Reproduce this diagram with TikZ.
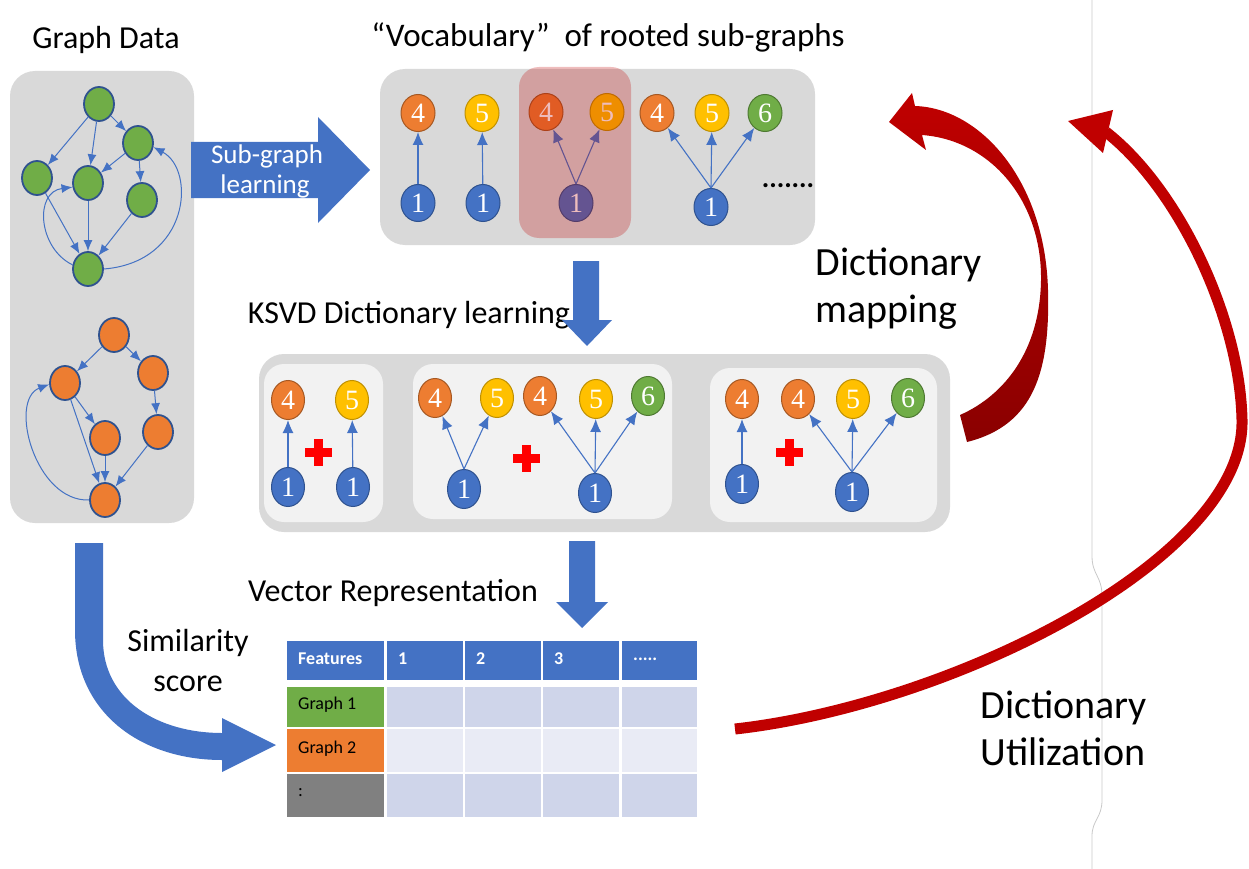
\documentclass[tikz,border=0pt]{standalone}
\usepackage{fontspec}
\setmainfont{Carlito}
\newfontfamily\digitfont{Liberation Serif}
\usetikzlibrary{arrows.meta,shapes.geometric}

\definecolor{panelgray}{HTML}{D9D9D9}
\definecolor{innergray}{HTML}{F2F2F2}
\definecolor{accblue}{HTML}{4472C4}
\definecolor{darkblue}{HTML}{2F528F}
\definecolor{accorange}{HTML}{ED7D31}
\definecolor{accyellow}{HTML}{FFC000}
\definecolor{accgreen}{HTML}{70AD47}
\definecolor{darkred}{HTML}{C00000}
\definecolor{plusred}{HTML}{FF0000}
\definecolor{cellA}{HTML}{CFD5EA}
\definecolor{cellB}{HTML}{E9EBF5}
\definecolor{cellgray}{HTML}{808080}
\definecolor{guide}{HTML}{C8C8C8}

\tikzset{
  panel/.style={fill=panelgray, rounded corners=25pt},
  subpanel/.style={fill=innergray, rounded corners=20pt},
  gnode/.style={ellipse, draw=darkblue, line width=1.8pt, minimum width=30pt, minimum height=34pt, inner sep=0pt},
  greennode/.style={gnode, fill=accgreen},
  orangenode/.style={gnode, fill=accorange},
  link/.style={draw=accblue, line width=1pt, -{Latex[length=11pt,width=9pt]}},
  sublink/.style={draw=accblue, line width=1.1pt, -{Latex[length=13pt,width=11pt]}},
  vnode/.style={ellipse, line width=1pt, minimum width=34pt, minimum height=37pt, inner sep=0pt, text=white, font=\digitfont\fontsize{28}{28}\selectfont},
  knode/.style={vnode, minimum width=33pt, minimum height=39pt},
  colfour/.style={fill=accorange, draw=accorange!70!black},
  colfive/.style={fill=accyellow, draw=accyellow!75!black},
  colsix/.style={fill=accgreen, draw=accgreen!70!black},
  colone/.style={fill=accblue, draw=darkblue},
  title/.style={font=\fontsize{32}{38}\selectfont},
  biglabel/.style={font=\fontsize{40}{47}\selectfont, align=left, anchor=west},
  celltext/.style={anchor=west, font=\fontsize{18}{20}\selectfont, inner sep=0pt},
}

% red "+" between combined sub-graphs
\newcommand\redplus[2]{%
  \fill[plusred] (#1-13.5,#2-4.5) rectangle (#1+13.5,#2+4.5);
  \fill[plusred] (#1-4.5,#2-13.5) rectangle (#1+4.5,#2+13.5);}

\begin{document}
\begin{tikzpicture}[x=1pt,y=-1pt]
\useasboundingbox (0,0) rectangle (1249,869);

% thin guide line on the right
\draw[guide, line width=0.8pt] (1092,0) -- (1092,556)
  .. controls (1092,575) and (1102,576) .. (1102,596) -- (1102,800)
  .. controls (1102,818) and (1092,820) .. (1092,836) -- (1092,869);

% ---------------- titles and labels ----------------
\node[title] (tgraph) at (106,40) {Graph Data};
\node[title, font=\fontsize{33}{38}\selectfont] (tvocab) at (608,37) {``Vocabulary''~ of rooted sub-graphs};
\node[title] (tksvd) at (409,315) {KSVD Dictionary learning};
\node[title] (tvec) at (393,593) {Vector Representation};
\node[title, align=center, font=\fontsize{32}{40}\selectfont] (tsim) at (188,660) {Similarity\\score};
\node[biglabel] (tmap) at (812,289) {Dictionary\\mapping};
\node[biglabel] (tutil) at (977,728) {Dictionary\\Utilization};

% ---------------- graph data panel ----------------
\fill[panel] (10,71) rectangle (194,523);

\node[greennode] (g1) at (99,104) {};
\node[greennode] (g2) at (138,143) {};
\node[greennode] (g3) at (37,178) {};
\node[greennode] (g4) at (88,183) {};
\node[greennode] (g5) at (142,200) {};
\node[greennode] (g6) at (88,269) {};
\draw[link] (g1) -- (g3);
\draw[link] (g1) -- (g4);
\draw[link] (g1) -- (g2);
\draw[link] (g2) -- (g4);
\draw[link] (g2) -- (g5);
\draw[link] (g3) -- (g6);
\draw[link] (g4) -- (g6);
\draw[link] (g5) -- (g6);
\draw[link] (g6.east) .. controls (190,262) and (196,170) .. (g2.-15);
\draw[link] (g6.165) .. controls (38,248) and (34,192) .. (g4.195);

\node[orangenode] (o1) at (114,335) {};
\node[orangenode] (o2) at (65,383) {};
\node[orangenode] (o3) at (153,373) {};
\node[orangenode] (o4) at (105,438) {};
\node[orangenode] (o5) at (158,432) {};
\node[orangenode] (o6) at (105,500) {};
\draw[link] (o1) -- (o2);
\draw[link] (o1) -- (o3);
\draw[link] (o2) -- (o4);
\draw[link] (o2) -- (o6);
\draw[link] (o3) -- (o5);
\draw[link] (o4) -- (o6);
\draw[link] (o5) -- (o6);
\draw[link] (o6.180) .. controls (35,502) and (8,400) .. (o2.185);

% ---------------- sub-graph learning arrow ----------------
\fill[accblue] (191,142) -- (318,142) -- (318,117) -- (370,170) -- (318,223) -- (318,198) -- (191,198) -- cycle;
\node[text=white, font=\fontsize{27}{30}\selectfont] (tsub1) at (267,156) {Sub-graph};
\node[text=white, font=\fontsize{27}{30}\selectfont] (tsub2) at (265,186) {learning};

% ---------------- vocabulary panel ----------------
\fill[panel] (380,69) rectangle (815,245);
\node[vnode, colfour] (v4a) at (418,113) {4};
\node[vnode, colfive] (v5a) at (482,113) {5};
\node[vnode, colone] (v1a) at (418,203) {1};
\node[vnode, colone] (v1b) at (483,203) {1};
\draw[sublink] (v1a) -- (v4a);
\draw[sublink] (v1b) -- (v5a);

\node[vnode, colfour] (v4b) at (546,112) {4};
\node[vnode, colfive] (v5b) at (607,112) {5};
\node[vnode, colone] (v1c) at (576,203) {1};
\draw[sublink] (v1c.north) -- (v4b);
\draw[sublink] (v1c.north) -- (v5b);

\node[vnode, colfour] (v4c) at (657,113) {4};
\node[vnode, colfive] (v5c) at (712,113) {5};
\node[vnode, colsix] (v6c) at (765,113) {6};
\node[vnode, colone] (v1d) at (711,207) {1};
\draw[sublink] (v1d.north) -- (v4c);
\draw[sublink] (v1d.north) -- (v5c);
\draw[sublink] (v1d.north) -- (v6c);
\node[font=\bfseries\fontsize{28}{28}\selectfont, inner sep=0pt] (vdots) at (788,186) {.......};

% highlighted sub-graph
\fill[darkred, fill opacity=0.26, rounded corners=20pt] (519,67) rectangle (631,238);

% ---------------- down arrows ----------------
\fill[accblue] (573,261) -- (599,261) -- (599,320) -- (612,320) -- (587,346) -- (562,320) -- (573,320) -- cycle;
\fill[accblue] (569,541) -- (595,541) -- (595,602) -- (608,602) -- (582,628) -- (556,602) -- (569,602) -- cycle;

% ---------------- KSVD dictionary panel ----------------
\fill[panel] (259,354) rectangle (950,532);
\fill[subpanel] (264,364) rectangle (383,522);
\fill[subpanel] (413,364) rectangle (672,519);
\fill[subpanel] (710,368) rectangle (937,522);

\node[knode, colfour] (k4a) at (288,400) {4};
\node[knode, colfive] (k5a) at (352,400) {5};
\node[knode, colone] (k1a) at (288,487) {1};
\node[knode, colone] (k1b) at (353,487) {1};
\draw[sublink] (k1a) -- (k4a);
\draw[sublink] (k1b) -- (k5a);
\redplus{318}{452}

\node[knode, colfour] (k4b) at (435,398) {4};
\node[knode, colfive] (k5b) at (497,398) {5};
\node[knode, colone] (k1c) at (464,489) {1};
\draw[sublink] (k1c.north) -- (k4b);
\draw[sublink] (k1c.north) -- (k5b);
\node[knode, colfour] (k4c) at (540,396) {4};
\node[knode, colfive] (k5c) at (596,399) {5};
\node[knode, colsix] (k6c) at (648,396) {6};
\node[knode, colone] (k1d) at (595,493) {1};
\draw[sublink] (k1d.north) -- (k4c);
\draw[sublink] (k1d.north) -- (k5c);
\draw[sublink] (k1d.north) -- (k6c);
\redplus{526}{458}

\node[knode, colfour] (k4d) at (742,399) {4};
\node[knode, colone] (k1e) at (742,484) {1};
\draw[sublink] (k1e) -- (k4d);
\node[knode, colfour] (k4e) at (798,399) {4};
\node[knode, colfive] (k5e) at (853,399) {5};
\node[knode, colsix] (k6e) at (908,398) {6};
\node[knode, colone] (k1f) at (852,492) {1};
\draw[sublink] (k1f.north) -- (k4e);
\draw[sublink] (k1f.north) -- (k5e);
\draw[sublink] (k1f.north) -- (k6e);
\redplus{789}{452}

% ---------------- feature table ----------------
\fill[accblue] (287,641) rectangle (384,680);
\fill[accblue] (387,641) rectangle (463,680);
\fill[accblue] (465,641) rectangle (541,680);
\fill[accblue] (543,641) rectangle (619,680);
\fill[accblue] (622,641) rectangle (697,680);
\fill[accgreen] (287,687) rectangle (384,727);
\fill[accorange] (287,729) rectangle (384,772);
\fill[cellgray] (287,774) rectangle (384,817);
\foreach \xa/\xb in {387/463, 465/541, 543/619, 622/697} {
  \fill[cellA] (\xa,687) rectangle (\xb,727);
  \fill[cellB] (\xa,729) rectangle (\xb,772);
  \fill[cellA] (\xa,774) rectangle (\xb,817);
}
\node[celltext, text=white, font=\bfseries\fontsize{18}{20}\selectfont] (hfeat) at (298,659) {Features};
\node[celltext, text=white, font=\bfseries\fontsize{18}{20}\selectfont] (hone) at (398,659) {1};
\node[celltext, text=white, font=\bfseries\fontsize{18}{20}\selectfont] (htwo) at (476,659) {2};
\node[celltext, text=white, font=\bfseries\fontsize{18}{20}\selectfont] (hthree) at (554,659) {3};
\node[celltext, text=white, font=\bfseries\fontsize{18}{20}\selectfont] (hmore) at (633,659) {.....};
\node[celltext] (rg1) at (298,705) {Graph 1};
\node[celltext] (rg2) at (298,749) {Graph 2};
\node[celltext] (rg3) at (298,793) {:};

% ---------------- similarity arrow ----------------
\fill[accblue] (75,543) -- (75,630) .. controls (75,712) and (140,760) .. (222,760)
  -- (222,772) -- (276,745) -- (222,718) -- (222,733)
  .. controls (158,733) and (103,700) .. (103,640) -- (103,543) -- cycle;

% ---------------- dictionary mapping arrow ----------------
\shade[top color=darkred, bottom color=darkred!72!black]
  (915,106) .. controls (980,108) and (1045,180) .. (1048,290)
  .. controls (1050,370) and (1035,425) .. (967,442) -- (960,415)
  .. controls (1005,395) and (1040,350) .. (1041,280)
  .. controls (1042,200) and (990,140) .. (922,135)
  -- (926,150) -- (889,122) -- (912,93) -- cycle;

% ---------------- dictionary utilization arrow ----------------
\draw[darkred, line width=11pt] (735,729) .. controls (950,705) and (1245,560) .. (1242,420)
  .. controls (1240,320) and (1180,190) .. (1106,132);
\fill[darkred] (1068,121) -- (1113,110) -- (1103,153) -- cycle;

\end{tikzpicture}
\end{document}
